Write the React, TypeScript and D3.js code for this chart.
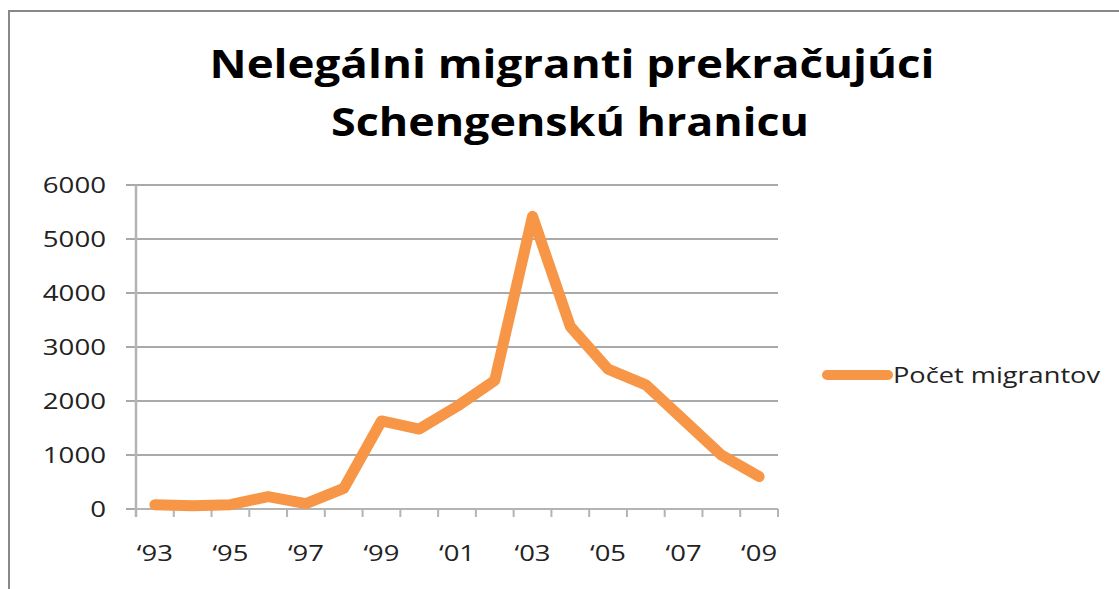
import * as d3 from "d3";
import { useEffect } from "react";

const years = ["93", "94", "95", "96", "97", "98", "99", "00", "01", "02", "03", "04", "05", "06", "07", "08", "09"];
const migrants = [80, 60, 80, 230, 100, 380, 1630, 1480, 1900, 2380, 5420, 3380, 2590, 2300, 1650, 1000, 600];
const yTicks = [0, 1000, 2000, 3000, 4000, 5000, 6000];
const xLabels = ["93", "95", "97", "99", "01", "03", "05", "07", "09"];
const titleLines = ["Nelegálni migranti prekračujúci", "Schengenskú hranicu"];
const seriesName = "Počet migrantov";

const width = 1119;
const height = 589;
const plotLeft = 136;
const plotRight = 778;
const plotTop = 185;
const plotBottom = 509;
const orange = "#F79646";

export default function App() {
  useEffect(() => {
    document.body.style.margin = "0";
  }, []);

  const x = d3.scaleBand().domain(years).range([plotLeft, plotRight]).padding(0);
  const y = d3.scaleLinear().domain([0, 6000]).range([plotBottom, plotTop]);
  const cx = (d) => x(d) + x.bandwidth() / 2;

  const line = d3
    .line()
    .x((d, i) => cx(years[i]))
    .y((d) => y(d));

  // tick marks sit on the borders between categories
  const xTickPos = years.map((d) => x(d)).concat([plotRight]);

  return (
    <svg width={width} height={height} style={{ display: "block" }} fontFamily="'Open Sans', sans-serif">
      <rect x={0} y={0} width={width} height={height} fill="#fff" />
      <rect x={9} y={11} width={width} height={height} fill="none" stroke="#888" strokeWidth={2} />

      {/* title */}
      <text x={572} y={78} textAnchor="middle" fontSize={40} fontWeight="bold" fill="#000"
        textLength={725} lengthAdjust="spacingAndGlyphs">
        {titleLines[0]}
      </text>
      <text x={570} y={136} textAnchor="middle" fontSize={40} fontWeight="bold" fill="#000"
        textLength={478} lengthAdjust="spacingAndGlyphs">
        {titleLines[1]}
      </text>

      {/* gridlines + y labels */}
      {yTicks.map((t) => (
        <g key={t}>
          <line x1={126} x2={plotRight} y1={y(t)} y2={y(t)} stroke="#8c8c8c" strokeWidth={1.5} />
          <text x={106} y={y(t) + 8} textAnchor="end" fontSize={21} fill="#222"
            textLength={String(t).length * 15.8} lengthAdjust="spacingAndGlyphs">
            {t}
          </text>
        </g>
      ))}

      {/* axes */}
      <line x1={plotLeft} x2={plotLeft} y1={plotTop} y2={517} stroke="#b4b4b4" strokeWidth={2.5} />
      <line x1={plotLeft} x2={plotRight} y1={plotBottom} y2={plotBottom} stroke="#b4b4b4" strokeWidth={2} />
      {xTickPos.map((p, i) => (
        <line key={i} x1={p} x2={p} y1={plotBottom} y2={517} stroke="#b4b4b4" strokeWidth={2} />
      ))}
      {xLabels.map((l) => (
        <text key={l} x={cx(l)} y={561} textAnchor="middle" fontSize={22} fill="#222"
          textLength={36} lengthAdjust="spacingAndGlyphs">
          {"\u2018" + l}
        </text>
      ))}

      {/* series */}
      <path d={line(migrants)} fill="none" stroke={orange} strokeWidth={11}
        strokeLinejoin="round" strokeLinecap="round" />

      {/* legend */}
      <line x1={827} x2={888} y1={375} y2={375} stroke={orange} strokeWidth={10} strokeLinecap="round" />
      <text x={893} y={383} fontSize={22} fill="#222" textLength={207} lengthAdjust="spacingAndGlyphs">
        {seriesName}
      </text>
    </svg>
  );
}
